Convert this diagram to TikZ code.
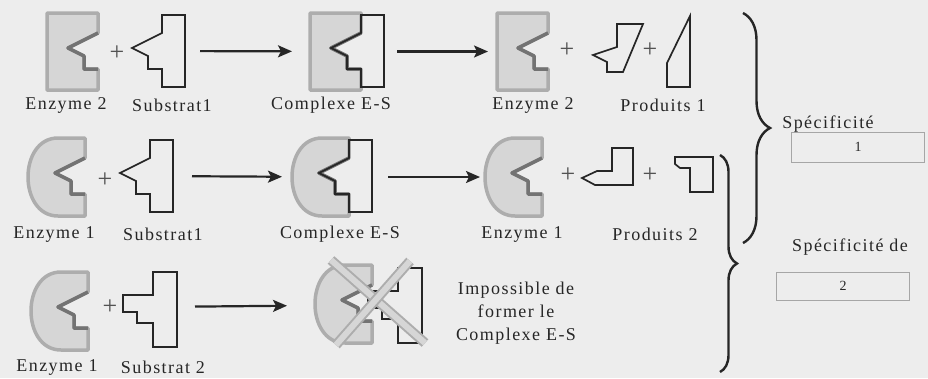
\documentclass[tikz,border=0pt]{standalone}
\usepackage{fontspec}
\setmainfont{Liberation Serif}[LetterSpace=8.0]
\usetikzlibrary{arrows.meta,decorations.pathreplacing}

\definecolor{paper}{gray}{0.93}
\definecolor{enzfill}{gray}{0.84}
\definecolor{enzrim}{gray}{0.68}
\definecolor{enzsite}{gray}{0.45}
\definecolor{ink}{gray}{0.15}

\newcommand{\lblfont}{\fontsize{18}{23}\selectfont}

\tikzset{
	enzyme/.style={fill=enzfill,draw=enzrim,line width=3.5pt,line join=round},
	site/.style={draw=enzsite,line width=3.5pt,line join=round},
	molecule/.style={draw=ink,line width=1.7pt,line join=miter},
	% square enzyme, origin = top left
	pics/enzsq/.style={code={
		\path[enzyme] (0,0) -- (51,0) -- (51,20) -- (21,35) -- (37,43) -- (37,56) -- (51,56) -- (51,77) -- (0,77) -- cycle;
		\draw[site] (51,20) -- (21,35) -- (37,43) -- (37,56) -- (51,56);
	}},
	% rounded enzyme, origin = top left
	pics/enzc/.style={code={
		\path[enzyme] (57,0) -- (30,0) .. controls (-10,0) and (-10,78) .. (30,78) -- (57,78) -- (57,56) -- (43,56) -- (43,43) -- (27,35) -- (57,20) -- cycle;
		\draw[site] (57,20) -- (27,35) -- (43,43) -- (43,56) -- (57,56);
	}},
	pics/subone/.style={code={
		\draw[molecule] (30,0) -- (53,0) -- (53,72) -- (30,72) -- (30,54) -- (16,54) -- (16,41) -- (0,33) -- (30,18) -- cycle;
	}},
	pics/subtwo/.style={code={
		\draw[molecule] (30,0) -- (54,0) -- (54,75) -- (30,75) -- (30,51) -- (14,51) -- (14,40) -- (0,40) -- (0,23) -- (30,23) -- cycle;
	}},
}

\begin{document}
\begin{tikzpicture}[x=1pt,y=-1pt]
	\fill[paper] (0,0) rectangle (928,378);
	\useasboundingbox (0,0) rectangle (928,378);

	\begin{scope}[every node/.style={inner sep=0pt,outer sep=0pt,anchor=north west}]
		% row 1
		\node[minimum width=51pt,minimum height=77pt] (e2a) at (47,13) {};
		\node[minimum width=53pt,minimum height=72pt] (s1a) at (132,15) {};
		\node[minimum width=74pt,minimum height=77pt] (es1) at (310,13) {};
		\node[minimum width=51pt,minimum height=77pt] (e2b) at (497,13) {};
		% row 2
		\node[minimum width=57pt,minimum height=78pt] (e1a) at (28,138) {};
		\node[minimum width=53pt,minimum height=72pt] (s1b) at (120,140) {};
		\node[minimum width=80pt,minimum height=78pt] (es2) at (292,138) {};
		\node[minimum width=57pt,minimum height=78pt] (e1b) at (485,138) {};
		% row 3
		\node[minimum width=57pt,minimum height=78pt] (e1c) at (31,272) {};
		\node[minimum width=54pt,minimum height=70pt] (s2) at (123,272) {};
		\node[minimum width=107pt,minimum height=80pt] (es3) at (315,265) {};
	\end{scope}

	% row 1 shapes
	\pic at (e2a.north west) {enzsq};
	\pic at (s1a.north west) {subone};
	\pic at (es1.north west) {enzsq};
	\pic at (331,15) {subone};
	\pic at (e2b.north west) {enzsq};
	\draw[molecule] (617,24) -- (643,24) -- (623,72) -- (607,72) -- (607,62) -- (593,55) -- (617,47) -- cycle;
	\draw[molecule] (667,87) -- (690,87) -- (690,16) -- (667,63) -- cycle;

	% row 2 shapes
	\pic at (e1a.north west) {enzc};
	\pic at (s1b.north west) {subone};
	\pic at (es2.north west) {enzc};
	\pic at (319,140) {subone};
	\pic at (e1b.north west) {enzc};
	\draw[molecule] (612,148) -- (633,148) -- (633,185) -- (595,185) -- (582,178) -- (597,171) -- (612,171) -- cycle;
	\draw[molecule] (675,157) -- (713,157) -- (713,192) -- (690,192) -- (690,168) -- (680,168) -- (675,164) -- cycle;

	% row 3 shapes
	\pic at (e1c.north west) {enzc};
	\pic at (s2.north west) {subtwo};
	\pic at (es3.north west) {enzc};
	\pic at (368,268) {subtwo};
	\draw[draw=enzrim,double=enzfill,double distance=6pt,line width=2pt] (331,260) -- (425,343);
	\draw[draw=enzrim,double=enzfill,double distance=6pt,line width=2pt] (410,261) -- (336,345);

	\begin{scope}[every node/.style={font=\lblfont,text=ink}]
		\node (lb1) at (66,105) {Enzyme 2};
		\node (lb2) at (172,105) {Substrat1};
		\node (lb3) at (331,105) {Complexe E-S};
		\node (lb4) at (533,105) {Enzyme 2};
		\node (lb5) at (663,105) {Produits 1};

		\node (lb6) at (54,234) {Enzyme 1};
		\node (lb7) at (163,234) {Substrat1};
		\node (lb8) at (340,234) {Complexe E-S};
		\node (lb9) at (522,234) {Enzyme 1};
		\node (lb10) at (655,234) {Produits 2};

		\node (lb11) at (57,367) {Enzyme 1};
		\node (lb12) at (163,367) {Substrat 2};
		\node[align=center] (nope) at (516,313) {Impossible de\\former le\\Complexe E-S};

		\node (spec1) at (828,124) {Spécificité};
		\node (spec2) at (850,247) {Spécificité de};
	\end{scope}

	\begin{scope}[every node/.style={font=\fontsize{26}{26}\selectfont,text=ink!80}]
		\node (p1) at (117,53) {+};
		\node (p2) at (567,50) {+};
		\node (p3) at (650,50) {+};
		\node (p4) at (105,180) {+};
		\node (p5) at (568,175) {+};
		\node (p6) at (650,175) {+};
		\node (p7) at (110,307) {+};
	\end{scope}

	\begin{scope}[every node/.style={draw=gray!70,line width=0.7pt,font=\fontsize{14}{16}\selectfont,text=ink}]
		\node[minimum width=133pt,minimum height=30pt] (box1) at (858,147) {1};
		\node[minimum width=133pt,minimum height=28pt] (box2) at (843,286) {2};
	\end{scope}

	\begin{scope}[>={Stealth[length=14pt,width=12pt,inset=3pt]},
				every edge/.style={draw=ink,line width=2.2pt}]
		\path [->] (s1a) edge[shorten <=15pt,shorten >=18pt] (es1);
		\path [->] (es1) edge[shorten <=13pt,shorten >=9pt] (e2b);
		\path [->] (s1b) edge[shorten <=19pt,shorten >=10pt] (es2);
		\path [->] (es2) edge[shorten <=16pt,shorten >=5pt] (e1b);
		\path [->] (s2) edge[shorten <=18pt,shorten >=28pt] (es3);
	\end{scope}

	% braces
	\draw[ink,line width=2.4pt,decorate,decoration={brace,amplitude=27pt}] (743,13) -- (743,243);
	\draw[ink,line width=2.4pt,decorate,decoration={brace,amplitude=17pt}] (720,155) -- (720,372);
\end{tikzpicture}
\end{document}
